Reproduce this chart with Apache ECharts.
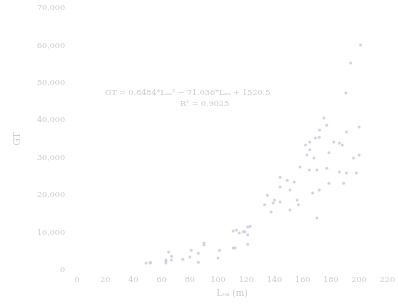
<!DOCTYPE html>
<html>
<head>
<meta charset="utf-8">
<script src="https://cdn.jsdelivr.net/npm/echarts@6/dist/echarts.min.js"></script>
<style>
  html, body { margin: 0; padding: 0; background: #fff; }
  #chart { width: 398px; height: 305px; }
</style>
</head>
<body>
<div id="chart"></div>
<script>
// ship length overall (m) vs gross tonnage
var lengths = [201, 194, 190.6, 175, 177, 172, 169, 171.7, 165, 162, 182, 186, 188, 191, 200,
    165, 163, 168, 178.6, 196, 200, 158, 164.7, 170, 177, 186, 191, 198, 144, 149, 154,
    178.6, 189, 144, 151, 167, 171.7, 135, 140, 144, 156, 133, 139, 157, 151, 137.6, 170,
    121, 113, 118, 121, 90, 110.7, 101, 81, 86, 65, 63, 52, 49, 52, 63, 63, 67, 67, 75,
    80, 86, 90, 100, 110.7, 115, 119, 122.7, 112, 121];
var tonnage = [60100, 55300, 47300, 40600, 38700, 37400, 35300, 35500, 34200, 33400, 34200, 33900,
    33400, 36900, 38200, 32100, 30700, 29900, 31300, 29900, 30700, 27500, 26700, 26700, 27200,
    26200, 25900, 25900, 24800, 24000, 23500, 23200, 23200, 22200, 21400, 20600, 21400, 20000,
    18700, 18200, 18700, 17400, 17900, 17400, 16000, 15500, 13900, 11500, 10700, 10200, 9400,
    6700, 5900, 5300, 5300, 4500, 4800, 2700, 2100, 1900, 1900, 2400, 1900, 3700, 2700, 2900,
    3500, 2100, 7200, 3200, 10400, 9900, 10200, 11700, 5900, 6900];
var xTicks = [0, 20, 40, 60, 80, 100, 120, 140, 160, 180, 200, 220];
var yTicks = [0, 10000, 20000, 30000, 40000, 50000, 60000, 70000];

var points = lengths.map(function (l, i) { return [l, tonnage[i]]; });

var chart = echarts.init(document.getElementById('chart'));
var faint = '#cccccc';

chart.setOption({
    animation: false,
    grid: { left: 77, right: 7, top: 8, bottom: 35 },
    xAxis: {
        type: 'value',
        min: xTicks[0],
        max: xTicks[xTicks.length - 1],
        interval: 20,
        name: 'L\u2092\u2090 (m)',
        nameLocation: 'middle',
        nameGap: 18,
        nameTextStyle: { color: faint, fontSize: 9, fontFamily: 'DejaVu Serif' },
        axisLine: { show: false },
        axisTick: { show: false },
        splitLine: { show: false },
        axisLabel: { color: faint, fontSize: 8, fontFamily: 'DejaVu Serif', margin: 6 }
    },
    yAxis: {
        type: 'value',
        min: yTicks[0],
        max: yTicks[yTicks.length - 1],
        interval: 10000,
        name: 'GT',
        nameLocation: 'middle',
        nameGap: 55,
        nameTextStyle: { color: faint, fontSize: 9, fontFamily: 'DejaVu Serif' },
        axisLine: { show: false },
        axisTick: { show: false },
        splitLine: { show: false },
        axisLabel: {
            color: faint, fontSize: 8, fontFamily: 'DejaVu Serif', margin: 12,
            formatter: function (v) { return v === 0 ? '0' : (v / 1000).toFixed(0) + ',000'; }
        }
    },
    graphic: [
        {
            type: 'text', left: 105, top: 89,
            style: {
                text: 'GT = 0.8484*L\u2092\u2090\u00b2 \u2212 71.036*L\u2092\u2090 + 1520.5',
                fill: faint, fontSize: 8, fontFamily: 'DejaVu Serif'
            }
        },
        {
            type: 'text', left: 180, top: 100,
            style: { text: 'R\u00b2 = 0.9025', fill: faint, fontSize: 8, fontFamily: 'DejaVu Serif' }
        }
    ],
    series: [{
        type: 'scatter',
        data: points,
        symbolSize: 3,
        itemStyle: { color: '#d2cde2', opacity: 0.9 }
    }]
});
</script>
</body>
</html>
